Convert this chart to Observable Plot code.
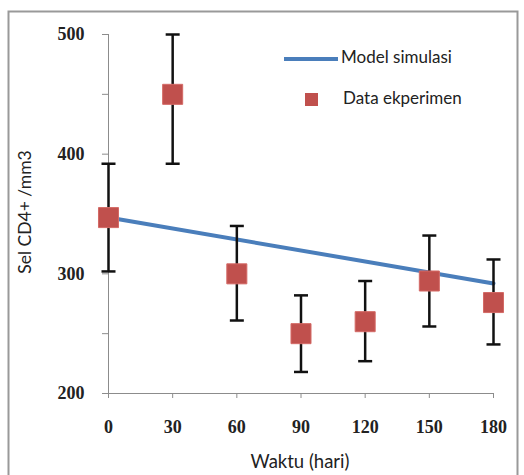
<!DOCTYPE html>
<html>
<head>
<meta charset="utf-8">
<script src="https://cdn.jsdelivr.net/npm/d3@7"></script>
<script src="https://cdn.jsdelivr.net/npm/@observablehq/plot@0.6"></script>
<style>
  html, body { margin: 0; padding: 0; background: #fff; }
  #chart { width: 524px; height: 475px; overflow: hidden; }
</style>
</head>
<body>
<div id="chart"></div>
<script>
const days = [0, 30, 60, 90, 120, 150, 180];
const cells = [347, 450, 300, 250, 260, 294, 276];
const errLow = [302, 392, 261, 218, 227, 256, 241];
const errHigh = [392, 500, 340, 282, 294, 332, 312];
const modelDays = [0, 180];
const modelCells = [347, 292];
const yMajor = [200, 300, 400, 500];
const yMinor = [250, 350, 450];
const xTicks = [0, 30, 60, 90, 120, 150, 180];
const xTitle = "Waktu (hari)";
const yTitle = "Sel CD4+ /mm3";
const legendModel = "Model simulasi";
const legendData = "Data ekperimen";

const data = days.map((d, i) => ({day: d, v: cells[i], lo: errLow[i], hi: errHigh[i]}));
const model = modelDays.map((d, i) => ({day: d, v: modelCells[i]}));

const capSymbol = {
  draw(ctx, size) {
    const w = Math.sqrt(size / Math.PI);
    ctx.moveTo(-w, 0);
    ctx.lineTo(w, 0);
  }
};

const serif = "'Liberation Serif', serif";
const sans = "Lato, 'Open Sans', sans-serif";

const plot = Plot.plot({
  width: 524,
  height: 475,
  marginLeft: 108,
  marginRight: 31,
  marginTop: 34,
  marginBottom: 82,
  x: {domain: [0, 180]},
  y: {domain: [200, 500]},
  style: {background: "#fff", overflow: "visible"},
  marks: [
    Plot.ruleX([0], {stroke: "#8c8c8c", strokeWidth: 1}),
    Plot.ruleY([200], {stroke: "#8c8c8c", strokeWidth: 1}),
    Plot.axisY({ticks: yMajor, tickSize: 6, tickPadding: 18, stroke: "#8c8c8c", fill: "#222",
      fontSize: 18, fontFamily: serif, fontWeight: "bold", label: null}),
    Plot.axisY({ticks: yMinor, tickSize: 6, tickFormat: () => "", stroke: "#8c8c8c", label: null}),
    Plot.axisX({ticks: xTicks, tickSize: 5, tickPadding: 22, stroke: "#8c8c8c", fill: "#222",
      fontSize: 18, fontFamily: serif, fontWeight: "bold", label: null}),
    Plot.line(model, {x: "day", y: "v", stroke: "#4a7ebb", strokeWidth: 4}),
    Plot.ruleX(data, {x: "day", y1: "lo", y2: "hi", stroke: "#111", strokeWidth: 2.5}),
    Plot.dot(data, {x: "day", y: "lo", symbol: capSymbol, r: 7, stroke: "#111", strokeWidth: 2.5, fill: "none"}),
    Plot.dot(data, {x: "day", y: "hi", symbol: capSymbol, r: 7, stroke: "#111", strokeWidth: 2.5, fill: "none"}),
    Plot.dot(data, {x: "day", y: "v", symbol: "square", r: 11.3, fill: "#c0504d", stroke: "#d46a66", strokeWidth: 1})
  ]
});

const svg = d3.select(plot);
// outer frame
svg.insert("rect", ":first-child")
  .attr("x", 8.5).attr("y", 11.5).attr("width", 509).attr("height", 480)
  .attr("fill", "#fff").attr("stroke", "#999").attr("stroke-width", 2);

// axis titles
svg.append("text").text(xTitle)
  .attr("x", 300).attr("y", 463).attr("text-anchor", "middle").attr("dominant-baseline", "middle")
  .attr("font-family", sans).attr("font-size", 18.5).attr("fill", "#222");
svg.append("text").text(yTitle)
  .attr("transform", "translate(27,212) rotate(-90)").attr("text-anchor", "middle").attr("dominant-baseline", "middle")
  .attr("font-family", sans).attr("font-size", 17.5).attr("fill", "#222");

// legend
svg.append("line").attr("x1", 284).attr("x2", 338).attr("y1", 59).attr("y2", 59)
  .attr("stroke", "#4a7ebb").attr("stroke-width", 4);
svg.append("text").text(legendModel)
  .attr("x", 341).attr("y", 59).attr("text-anchor", "start").attr("dominant-baseline", "middle")
  .attr("font-family", sans).attr("font-size", 17).attr("fill", "#222");
svg.append("rect").attr("x", 305).attr("y", 93).attr("width", 13).attr("height", 13)
  .attr("fill", "#c0504d");
svg.append("text").text(legendData)
  .attr("x", 343).attr("y", 100).attr("text-anchor", "start").attr("dominant-baseline", "middle")
  .attr("font-family", sans).attr("font-size", 17).attr("fill", "#222");

document.getElementById("chart").appendChild(plot);
</script>
</body>
</html>
